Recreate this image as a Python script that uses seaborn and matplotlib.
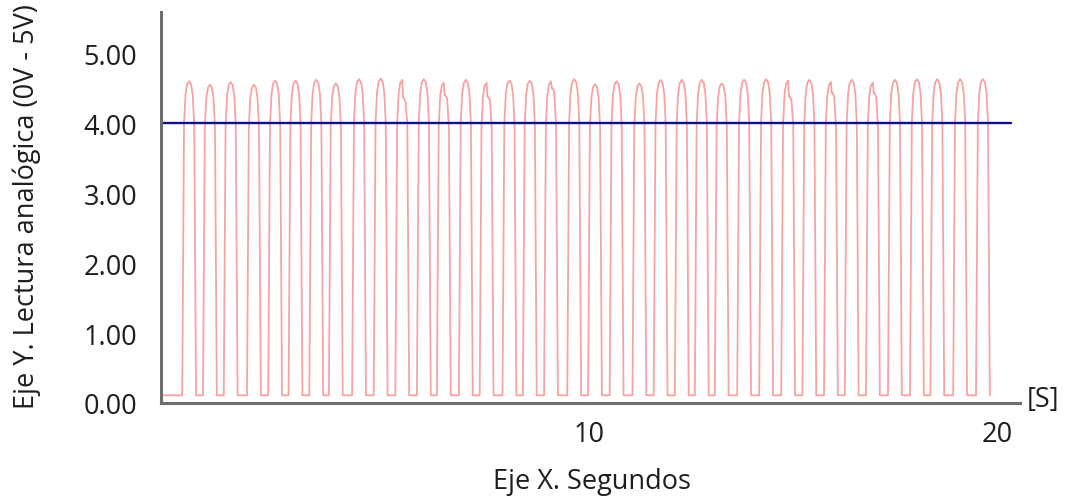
import numpy as np
import pandas as pd
import matplotlib
matplotlib.use("Agg")
import matplotlib.pyplot as plt
import seaborn as sns

# ---- data ----
peak_times = [0.18, 0.69, 1.20, 1.77, 2.29, 2.79, 3.30, 3.78, 4.35, 4.88,
              5.41, 5.94, 6.43, 6.97, 7.48, 8.04, 8.54, 9.06, 9.63, 10.14,
              10.67, 11.23, 11.75, 12.27, 12.76, 13.25, 13.80, 14.34, 14.88, 15.40,
              15.93, 16.44, 16.96, 17.50, 18.04, 18.54, 19.10, 19.66]
peak_heights = [4.60, 4.55, 4.59, 4.55, 4.61, 4.61, 4.62, 4.57, 4.63, 4.64,
                4.62, 4.63, 4.58, 4.62, 4.58, 4.61, 4.61, 4.60, 4.63, 4.56,
                4.60, 4.57, 4.62, 4.62, 4.62, 4.57, 4.62, 4.63, 4.61, 4.62,
                4.59, 4.62, 4.58, 4.62, 4.63, 4.63, 4.63, 4.63]
# notch level on the right shoulder of some pulses (0 = none)
notch_levels = [0, 0, 0, 0, 0, 0, 0, 0, 0, 0,
                4.36, 0, 4.40, 0, 4.38, 0, 0, 4.50, 0, 0,
                0, 0, 0, 0, 0, 0, 0, 0, 4.38, 0,
                4.43, 0, 4.43, 0, 0, 0, 0, 0]
low_level = 0.11
signal_start = -0.5
threshold_value = 4.0
threshold_x = [-0.5, 20.35]
x_ticks = [10, 20]
y_ticks = [0, 1, 2, 3, 4, 5]
y_tick_labels = ["0.00", "1.00", "2.00", "3.00", "4.00", "5.00"]

# pulse outline (time offset in s, fraction of pulse height)
left_shape = [(-0.17, 0.0), (-0.125, 0.86), (-0.09, 0.955), (-0.05, 0.99), (0.0, 1.0)]
right_shape = [(0.05, 0.99), (0.09, 0.955), (0.125, 0.86), (0.17, 0.0)]

xs, ys = [signal_start], [low_level]
for t, h, n in zip(peak_times, peak_heights, notch_levels):
    for dt, f in left_shape:
        xs.append(t + dt); ys.append(low_level + f * (h - low_level))
    if n:
        xs += [t + 0.02, t + 0.04, t + 0.08]
        ys += [n, n, n - 0.05]
        for dt, f in right_shape[2:]:
            xs.append(t + dt); ys.append(low_level + f * (h - low_level))
    else:
        for dt, f in right_shape:
            xs.append(t + dt); ys.append(low_level + f * (h - low_level))
df = pd.DataFrame({"t": xs, "v": ys})
thr = pd.DataFrame({"t": threshold_x, "v": [threshold_value] * 2})

sns.set_theme(style="white")
plt.rcParams["font.family"] = ["Open Sans", "DejaVu Sans"]
text_color = "#1e1e1e"
fs = 19.5

fig = plt.figure(figsize=(10.71, 5.02), dpi=100)
ax = fig.add_axes([161 / 1071, 1 - 404 / 502, (1020 - 161) / 1071, (404 - 13) / 502])

sns.lineplot(data=df, x="t", y="v", sort=False, estimator=None, ax=ax,
             color="#f5a3a3", linewidth=1.3)
sns.lineplot(data=thr, x="t", y="v", sort=False, estimator=None, ax=ax,
             color="#10108a", linewidth=1.7)

ax.set_xlim(-0.51, 20.57)
ax.set_ylim(0.06, 5.59)
ax.set_xticks(x_ticks)
ax.set_xticklabels([str(v) for v in x_ticks])
ax.set_yticks(y_ticks)
ax.set_yticklabels(y_tick_labels)
ax.tick_params(axis="both", length=0, labelsize=fs, colors=text_color)
ax.tick_params(axis="y", pad=17)
ax.tick_params(axis="x", pad=12)

for side in ["top", "right"]:
    ax.spines[side].set_visible(False)
for side in ["left", "bottom"]:
    ax.spines[side].set_color("#6e6e6e")
    ax.spines[side].set_linewidth(2.2)

ax.set_ylabel("Eje Y. Lectura analógica (0V - 5V)", fontsize=fs, color=text_color,
              ha="center", va="center")
ax.yaxis.set_label_coords((27 - 161) / 859, 0.505)
ax.set_xlabel("Eje X. Segundos", fontsize=fs, color=text_color, ha="center", va="center")
ax.xaxis.set_label_coords((592 - 161) / 859, (404 - 482) / 391)
ax.text(1.008, 0.01, "[S]", transform=ax.transAxes, fontsize=fs, color=text_color,
        ha="left", va="center")

fig.savefig("out.png", dpi=100)
